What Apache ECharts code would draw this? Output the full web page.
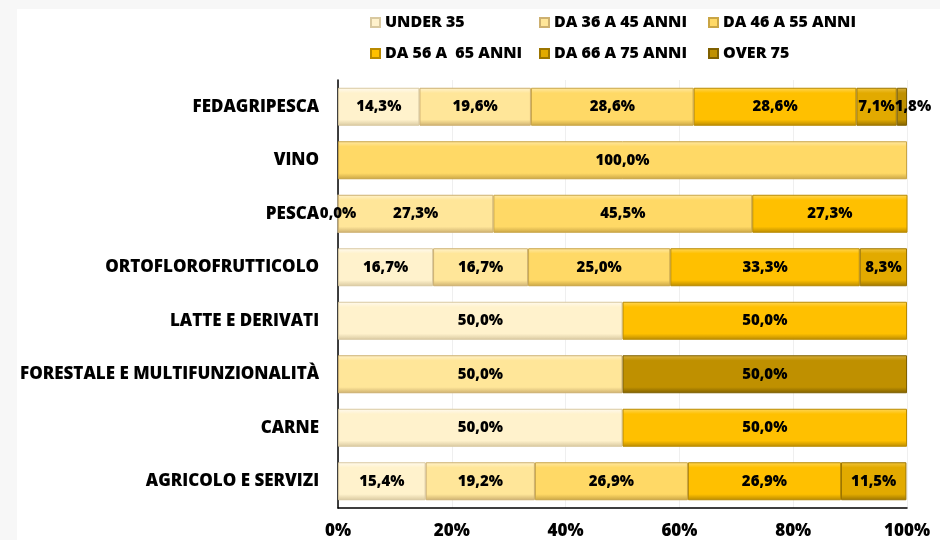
<!DOCTYPE html>
<html>
<head>
<meta charset="utf-8">
<script src="https://cdn.jsdelivr.net/npm/echarts@6/dist/echarts.min.js"></script>
<style>
  html, body { margin: 0; padding: 0; background: #f7f7f7; }
  #main { position: absolute; left: 17px; top: 9px; width: 923px; height: 531px; background: #fff; }
</style>
</head>
<body>
<div id="main"></div>
<script>
// categorie (dall'alto verso il basso)
const categories = ['FEDAGRIPESCA', 'VINO', 'PESCA', 'ORTOFLOROFRUTTICOLO', 'LATTE E DERIVATI',
  'FORESTALE E MULTIFUNZIONALITÀ', 'CARNE', 'AGRICOLO E SERVIZI']

const fasce = ['UNDER 35', 'DA 36 A 45 ANNI', 'DA 46 A 55 ANNI', 'DA 56 A  65 ANNI', 'DA 66 A 75 ANNI', 'OVER 75']

// percentuali per fascia d'età, stesso ordine delle categorie
const under35 = [14.3, null, 0.0, 16.7, 50.0, null, 50.0, 15.4]
const da36a45 = [19.6, null, 27.3, 16.7, null, 50.0, null, 19.2]
const da46a55 = [28.6, 100.0, 45.5, 25.0, null, null, null, 26.9]
const da56a65 = [28.6, null, 27.3, 33.3, 50.0, null, 50.0, 26.9]
const da66a75 = [7.1, null, null, 8.3, null, null, null, 11.5]
const over75 = [1.8, null, null, null, null, 50.0, null, null]

const xTicks = [0, 20, 40, 60, 80, 100]

const valori = [under35, da36a45, da46a55, da56a65, da66a75, over75]
const colori = [
  ['#fffaf0', '#fff2cc', '#d9c9a0'],
  ['#fff3cf', '#ffe699', '#cdb070'],
  ['#ffe9a6', '#ffd966', '#c9a545'],
  ['#ffd75a', '#ffc000', '#b98a00'],
  ['#f2c640', '#e2aa00', '#9c7500'],
  ['#d8b040', '#bf9000', '#7f6000']
]

const bevel = (c) => {
  return {
    color: new echarts.graphic.LinearGradient(0, 0, 0, 1, [
      { offset: 0, color: c[0] },
      { offset: 0.14, color: c[1] },
      { offset: 0.84, color: c[1] },
      { offset: 1, color: c[2] }
    ]),
    borderColor: c[2],
    borderWidth: 1
  }
}

const fmt = (v) => v.toFixed(1).replace('.', ',') + '%'

var myChart = echarts.init(document.getElementById('main'))

var option = {
  animation: false,
  textStyle: { fontFamily: 'Open Sans' },
  legend: {
    left: 353,
    top: 3,
    padding: 0,
    width: 520,
    itemWidth: 9,
    itemHeight: 9,
    itemGap: 10,
    icon: 'rect',
    textStyle: {
      fontFamily: 'Open Sans',
      fontWeight: 800,
      fontSize: 16,
      color: '#000',
      width: 144,
      lineHeight: 21
    },
    data: fasce
  },
  grid: {
    left: 320,
    right: 33,
    top: 71,
    bottom: 31,
    containLabel: false
  },
  xAxis: {
    type: 'value',
    min: 0,
    max: 100,
    interval: 20,
    axisLine: { show: true, lineStyle: { color: '#000', width: 1.5 } },
    axisTick: { show: false },
    splitLine: { show: true, lineStyle: { color: '#efefef' } },
    axisLabel: {
      margin: 15,
      fontFamily: 'Open Sans',
      fontWeight: 800,
      fontSize: 17,
      color: '#000',
      formatter: (v) => xTicks.includes(v) ? v + '%' : ''
    }
  },
  yAxis: {
    type: 'category',
    inverse: true,
    data: categories,
    axisLine: { show: true, lineStyle: { color: '#000', width: 1.5 } },
    axisTick: { show: false },
    axisLabel: {
      margin: 19,
      fontFamily: 'Open Sans',
      fontWeight: 800,
      fontSize: 17,
      color: '#000',
      padding: [3, 0, 0, 0]
    }
  },
  series: fasce.map((nome, i) => ({
    name: nome,
    type: 'bar',
    stack: 'tot',
    barWidth: 38,
    data: valori[i],
    itemStyle: bevel(colori[i]),
    label: {
      show: true,
      position: 'inside',
      fontFamily: 'Open Sans',
      fontWeight: 800,
      fontSize: 15,
      color: '#000',
      formatter: (p) => p.value == null ? '' : fmt(p.value)
    },
    labelLayout: i === 5 ? (params) => (params.rect.width < 20 ? { dx: 11 } : {}) : undefined
  }))
}

myChart.setOption(option)
window.addEventListener('resize', () => {
  myChart.resize()
})
</script>
</body>
</html>
